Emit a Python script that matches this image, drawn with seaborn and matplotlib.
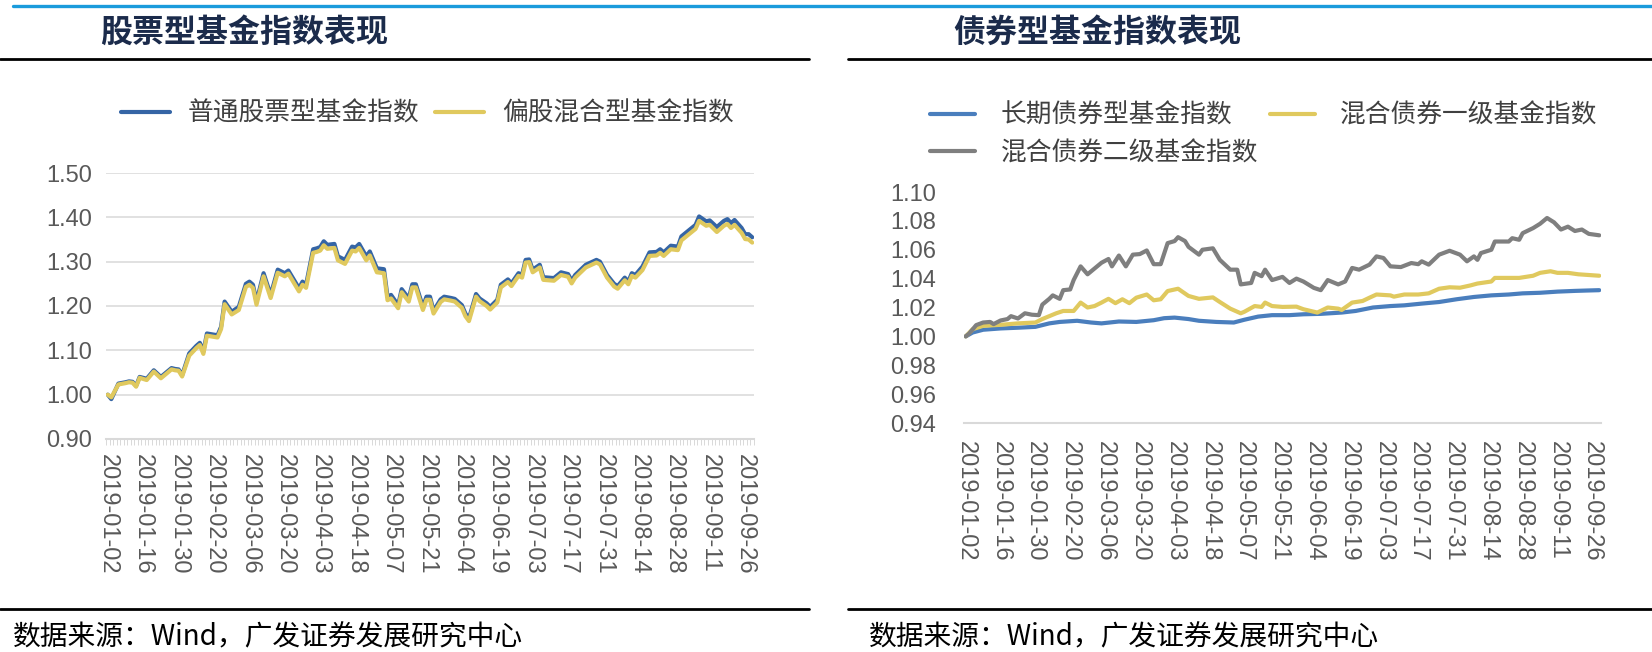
"""股票型 / 债券型基金指数表现, 2019-01-02 ~ 2019-09-30"""

import matplotlib.pyplot as plt
import pandas as pd
import seaborn as sns
from matplotlib.lines import Line2D

# A-share trading calendar
start, end = "2019-01-02", "2019-09-30"
holidays = ["2019-02-04", "2019-02-05", "2019-02-06", "2019-02-07", "2019-02-08",
            "2019-04-05", "2019-05-01", "2019-05-02", "2019-05-03", "2019-06-07",
            "2019-09-13"]

# stock fund indices, x = trading-day number since 2019-01-02
stock_day = [0, 1, 3, 5, 6, 7, 8, 9, 11, 13, 15, 18, 19, 20, 21, 23, 25, 26, 27, 28,
             31, 32, 33, 35, 37, 39, 40, 41, 42, 44, 46, 48, 50, 51, 54, 55, 56, 58,
             59, 60, 61, 62, 64, 65, 67, 69, 70, 71, 73, 74, 76, 78, 79, 80, 82, 83,
             85, 86, 87, 89, 90, 91, 92, 94, 95, 97, 98, 100, 101, 102, 104, 105, 107,
             108, 110, 111, 113, 114, 116, 117, 118, 119, 120, 122, 123, 126, 128, 129,
             130, 131, 132, 135, 138, 139, 141, 143, 144, 146, 147, 148, 149, 151, 153,
             155, 156, 157, 159, 161, 162, 164, 166, 167, 169, 170, 172, 174, 175, 176,
             177, 178, 179, 180, 181, 182]
stock_common = [1.000, 0.990, 1.025, 1.028, 1.030, 1.029, 1.020, 1.040, 1.036, 1.055,
                1.040, 1.060, 1.058, 1.057, 1.044, 1.093, 1.110, 1.117, 1.097, 1.138,
                1.134, 1.153, 1.210, 1.187, 1.198, 1.250, 1.255, 1.248, 1.210, 1.274,
                1.225, 1.282, 1.274, 1.280, 1.240, 1.255, 1.248, 1.328, 1.330, 1.333,
                1.346, 1.338, 1.340, 1.312, 1.304, 1.334, 1.332, 1.340, 1.312, 1.323,
                1.285, 1.283, 1.221, 1.225, 1.202, 1.238, 1.217, 1.249, 1.249, 1.198,
                1.221, 1.221, 1.189, 1.215, 1.221, 1.218, 1.216, 1.202, 1.183, 1.172,
                1.227, 1.217, 1.206, 1.198, 1.214, 1.248, 1.260, 1.251, 1.274, 1.270,
                1.304, 1.305, 1.282, 1.293, 1.265, 1.263, 1.276, 1.274, 1.272, 1.257,
                1.270, 1.293, 1.304, 1.300, 1.270, 1.250, 1.245, 1.264, 1.255, 1.274,
                1.270, 1.289, 1.321, 1.322, 1.328, 1.321, 1.336, 1.334, 1.357, 1.370,
                1.383, 1.402, 1.391, 1.393, 1.378, 1.392, 1.396, 1.387, 1.394, 1.385,
                1.376, 1.362, 1.362, 1.355]
stock_mixed = [1.000, 0.994, 1.023, 1.026, 1.028, 1.027, 1.018, 1.038, 1.033, 1.052,
               1.037, 1.057, 1.055, 1.054, 1.041, 1.088, 1.105, 1.112, 1.092, 1.133,
               1.129, 1.148, 1.204, 1.181, 1.191, 1.243, 1.248, 1.241, 1.203, 1.267,
               1.218, 1.275, 1.267, 1.273, 1.233, 1.248, 1.241, 1.320, 1.322, 1.325,
               1.337, 1.329, 1.331, 1.303, 1.295, 1.325, 1.323, 1.331, 1.303, 1.314,
               1.276, 1.274, 1.213, 1.217, 1.195, 1.231, 1.210, 1.242, 1.242, 1.191,
               1.214, 1.214, 1.183, 1.209, 1.215, 1.212, 1.210, 1.196, 1.177, 1.166,
               1.221, 1.211, 1.200, 1.192, 1.208, 1.242, 1.254, 1.245, 1.268, 1.264,
               1.298, 1.299, 1.276, 1.287, 1.259, 1.257, 1.270, 1.268, 1.266, 1.251,
               1.264, 1.287, 1.298, 1.294, 1.264, 1.244, 1.239, 1.258, 1.249, 1.268,
               1.264, 1.281, 1.313, 1.314, 1.320, 1.313, 1.328, 1.326, 1.348, 1.361,
               1.374, 1.392, 1.381, 1.383, 1.367, 1.381, 1.385, 1.376, 1.383, 1.374,
               1.365, 1.351, 1.350, 1.343]

# bond fund indices
long_day = [0, 2, 5, 10, 15, 20, 24, 27, 32, 36, 39, 44, 49, 54, 57, 60, 64, 67, 72,
            77, 80, 84, 88, 93, 97, 102, 108, 112, 117, 122, 126, 131, 136, 141, 146,
            151, 156, 160, 165, 170, 175, 179, 182]
long_bond = [1.000, 1.0027, 1.0046, 1.0055, 1.0060, 1.0066, 1.0090, 1.0100, 1.0108,
             1.0096, 1.0090, 1.0103, 1.0100, 1.0112, 1.0126, 1.0130, 1.0120, 1.0108,
             1.0100, 1.0096, 1.0115, 1.0137, 1.0147, 1.0147, 1.0153, 1.0156, 1.0165,
             1.0176, 1.0200, 1.0210, 1.0215, 1.0227, 1.0238, 1.0257, 1.0273, 1.0284,
             1.0290, 1.0298, 1.0302, 1.0310, 1.0315, 1.0318, 1.0320]
mix1_day = [0, 2, 5, 10, 15, 20, 22, 24, 26, 28, 31, 33, 35, 37, 39, 41, 43, 45, 47,
            49, 52, 54, 56, 58, 61, 64, 67, 71, 73, 76, 79, 80, 83, 85, 86, 88, 91, 95,
            97, 101, 104, 107, 108, 111, 114, 116, 118, 122, 123, 126, 130, 133, 136,
            139, 142, 145, 147, 151, 152, 156, 159, 163, 165, 168, 170, 173, 176, 179,
            182]
mix1_bond = [1.000, 1.0050, 1.0073, 1.0080, 1.0090, 1.0096, 1.0120, 1.0140, 1.0160,
             1.0176, 1.0176, 1.0234, 1.0200, 1.0210, 1.0234, 1.0260, 1.0230, 1.0257,
             1.0230, 1.0268, 1.0290, 1.0250, 1.0257, 1.0314, 1.0330, 1.0280, 1.0260,
             1.0270, 1.0238, 1.0192, 1.0160, 1.0170, 1.0210, 1.0204, 1.0234, 1.0210,
             1.0204, 1.0206, 1.0188, 1.0165, 1.0200, 1.0192, 1.0183, 1.0234, 1.0245,
             1.0268, 1.0290, 1.0284, 1.0275, 1.0290, 1.0290, 1.0298, 1.0330, 1.0340,
             1.0337, 1.0353, 1.0366, 1.0380, 1.0405, 1.0405, 1.0405, 1.0420, 1.0440,
             1.0451, 1.0440, 1.0440, 1.0430, 1.0425, 1.0420]
mix2_day = [0, 1, 3, 5, 7, 8, 10, 12, 13, 15, 17, 19, 21, 22, 24, 25, 27, 28, 30, 31,
            33, 35, 37, 39, 41, 42, 44, 46, 48, 50, 52, 54, 56, 58, 60, 61, 63, 64, 67,
            68, 71, 73, 76, 78, 79, 82, 83, 85, 86, 88, 91, 93, 95, 97, 100, 102, 104,
            107, 109, 111, 113, 116, 118, 120, 122, 125, 128, 130, 131, 133, 136, 139,
            142, 144, 146, 147, 148, 151, 152, 156, 157, 159, 160, 163, 165, 167, 169,
            171, 173, 175, 177, 179, 182]
mix2_bond = [1.000, 1.0020, 1.0078, 1.0096, 1.0100, 1.0085, 1.0110, 1.0120, 1.0140,
             1.0124, 1.0160, 1.0150, 1.0147, 1.0220, 1.0260, 1.0284, 1.0260, 1.0320,
             1.0325, 1.0390, 1.0485, 1.0430, 1.0470, 1.0510, 1.0536, 1.0485, 1.0560,
             1.0485, 1.0566, 1.0570, 1.0595, 1.0500, 1.0500, 1.0646, 1.0660, 1.0687,
             1.0660, 1.0620, 1.0566, 1.0600, 1.0610, 1.0530, 1.0462, 1.0462, 1.0360,
             1.0370, 1.0440, 1.0417, 1.0462, 1.0390, 1.0412, 1.0370, 1.0400, 1.0380,
             1.0336, 1.0320, 1.0390, 1.0360, 1.0380, 1.0474, 1.0462, 1.0497, 1.0554,
             1.0543, 1.0485, 1.0480, 1.0508, 1.0500, 1.0520, 1.0497, 1.0566, 1.0593,
             1.0566, 1.0520, 1.0554, 1.0530, 1.0577, 1.0600, 1.0657, 1.0657, 1.0680,
             1.0669, 1.0715, 1.0750, 1.0780, 1.0820, 1.0790, 1.0740, 1.0760, 1.0730,
             1.0740, 1.0710, 1.0700]

stock_labels = ["普通股票型基金指数", "偏股混合型基金指数"]
bond_labels = ["长期债券型基金指数", "混合债券一级基金指数", "混合债券二级基金指数"]
titles = ["股票型基金指数表现", "债券型基金指数表现"]
source = "数据来源：Wind，广发证券发展研究中心"

trade_days = pd.bdate_range(start, end)
trade_days = trade_days[~trade_days.isin(pd.to_datetime(holidays))]
n_days = len(trade_days)
tick_pos = list(range(0, n_days, 10))
tick_lab = [trade_days[i].strftime("%Y-%m-%d") for i in tick_pos]

sns.set_theme(style="white")
plt.rcParams["font.family"] = ["Noto Sans CJK SC", "DejaVu Sans"]

W, H = 1652, 652
fig = plt.figure(figsize=(W / 100, H / 100), dpi=100)


def fx(px):
    return px / W


def fy(py):
    return 1 - py / H


grey_txt = "#595959"
axis_c = "#d9d9d9"
lw = 3.0

# ---- left: stock funds
ax1 = fig.add_axes([fx(106), fy(439), fx(754 - 106), (439 - 173) / H])
sns.lineplot(x=stock_day, y=stock_common, ax=ax1, color="#3565a5", linewidth=lw,
             label=stock_labels[0])
sns.lineplot(x=stock_day, y=stock_mixed, ax=ax1, color="#e0c95e", linewidth=lw,
             label=stock_labels[1])
ax1.set_ylim(0.9, 1.5)
ax1.set_yticks([0.9, 1.0, 1.1, 1.2, 1.3, 1.4, 1.5])
ax1.yaxis.set_major_formatter("{x:.2f}")
ax1.grid(axis="y", color=axis_c, linewidth=1.1)
ax1.set_xticks([p - 0.5 for p in range(n_days + 1)], minor=True)
ax1.tick_params(axis="x", which="minor", length=4, width=0.7, color=axis_c,
                direction="out", bottom=True)
ax1.tick_params(axis="x", which="major", length=0, pad=11)
ax1.tick_params(axis="y", length=0, pad=10)

# ---- right: bond funds
ax2 = fig.add_axes([fx(964), fy(423), fx(1601 - 964), (423 - 192) / H])
sns.lineplot(x=long_day, y=long_bond, ax=ax2, color="#4a7ebd", linewidth=lw,
             label=bond_labels[0])
sns.lineplot(x=mix1_day, y=mix1_bond, ax=ax2, color="#e0c95e", linewidth=lw,
             label=bond_labels[1])
sns.lineplot(x=mix2_day, y=mix2_bond, ax=ax2, color="#7f7f7f", linewidth=lw,
             label=bond_labels[2])
ax2.set_ylim(0.94, 1.10)
ax2.set_yticks([0.94 + 0.02 * k for k in range(9)])
ax2.yaxis.set_major_formatter("{x:.2f}")
ax2.tick_params(axis="x", length=0, pad=13)
ax2.tick_params(axis="y", length=0, pad=20)

for ax in (ax1, ax2):
    ax.set_xlim(-0.5, n_days - 0.5)
    ax.set_xticks(tick_pos)
    ax.set_xticklabels(tick_lab, rotation=270, ha="center", va="top")
    ax.tick_params(labelsize=17, labelcolor=grey_txt, labelfontfamily="Liberation Sans")
    ax.set_xlabel("")
    ax.set_ylabel("")
    for side in ("left", "right", "top"):
        ax.spines[side].set_visible(False)
    ax.spines["bottom"].set_color(axis_c)
    ax.spines["bottom"].set_linewidth(1.5)

ax1.legend(loc="center left", bbox_to_anchor=(fx(121), fy(114)),
           bbox_transform=fig.transFigure, ncol=2, frameon=False, fontsize=18.5,
           handlelength=1.9, handletextpad=0.7, columnspacing=0.6,
           borderpad=0, borderaxespad=0, labelcolor="#404040")
h, l = ax2.get_legend_handles_labels()
ax2.legend([h[0], h[2], h[1]], [l[0], l[2], l[1]], loc="center left",
           bbox_to_anchor=(fx(930), fy(134.5)), bbox_transform=fig.transFigure,
           ncol=2, frameon=False, fontsize=18.5, handlelength=1.75, handletextpad=1.0,
           columnspacing=0.45, labelspacing=0.45, borderpad=0, borderaxespad=0,
           labelcolor="#404040")

# ---- page decoration: header rule, titles, source notes
fig.add_artist(Line2D([fx(13), 1], [fy(6), fy(6)], color="#1a9bdc", linewidth=2.4))
for x0, x1, tx, title in [(0, 809, 100, titles[0]), (848, W, 953, titles[1])]:
    fig.add_artist(Line2D([fx(x0), fx(x1)], [fy(59), fy(59)], color="black", linewidth=2))
    fig.add_artist(Line2D([fx(x0), fx(x1)], [fy(609), fy(609)], color="black",
                          linewidth=2))
    fig.text(fx(tx), fy(33), title, fontsize=23, fontweight="bold", color="#1b2b4b",
             va="center", ha="left")
fig.text(fx(13), fy(637), source, fontsize=20, color="black", va="center", ha="left")
fig.text(fx(869), fy(637), source, fontsize=20, color="black", va="center", ha="left")

fig.savefig("out.png", dpi=100)
